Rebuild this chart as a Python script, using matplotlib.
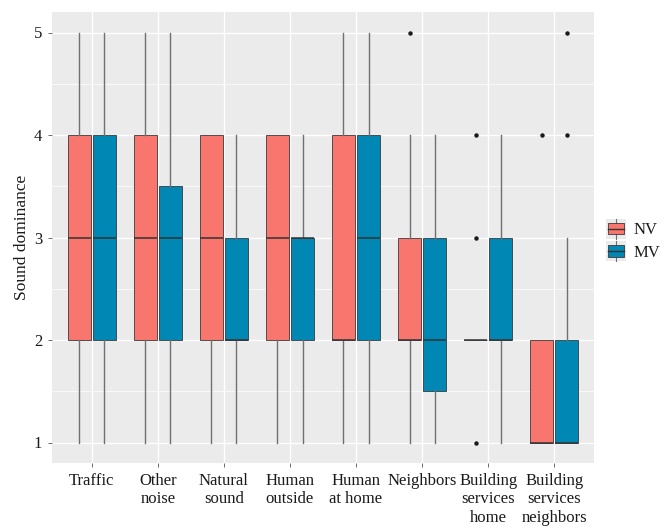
import matplotlib
matplotlib.use("Agg")
import matplotlib.pyplot as plt
from matplotlib.legend_handler import HandlerBase
from matplotlib.patches import Rectangle
from matplotlib.lines import Line2D
import numpy as np

plt.rcParams['font.family'] = ['Liberation Serif', 'DejaVu Serif']

categories = ["Traffic", "Other\nnoise", "Natural\nsound", "Human\noutside",
              "Human\nat home", "Neighbors", "Building\nservices\nhome",
              "Building\nservices\nneighbors"]
groups = ["NV", "MV"]
colors = {"NV": "#F8766D", "MV": "#0087B4"}

# five-number summaries per group: whisker low, Q1, median, Q3, whisker high
nv_whislo = [1, 1, 1, 1, 1, 1, 2, 1]
nv_q1     = [2, 2, 2, 2, 2, 2, 2, 1]
nv_med    = [3, 3, 3, 3, 2, 2, 2, 1]
nv_q3     = [4, 4, 4, 4, 4, 3, 2, 2]
nv_whishi = [5, 5, 4, 4, 5, 4, 2, 2]
nv_fliers = [[], [], [], [], [], [5], [1, 3, 4], [4]]

mv_whislo = [1, 1, 1, 1, 1, 1, 1, 1]
mv_q1     = [2, 2, 2, 2, 2, 1.5, 2, 1]
mv_med    = [3, 3, 2, 3, 3, 2, 2, 1]
mv_q3     = [4, 3.5, 3, 3, 4, 3, 3, 2]
mv_whishi = [5, 5, 4, 4, 5, 4, 4, 3]
mv_fliers = [[], [], [], [], [], [], [], [4, 5]]

series = {
    "NV": (nv_whislo, nv_q1, nv_med, nv_q3, nv_whishi, nv_fliers),
    "MV": (mv_whislo, mv_q1, mv_med, mv_q3, mv_whishi, mv_fliers),
}

fig = plt.figure(figsize=(6.7, 5.28), dpi=100)
ax = fig.add_axes([52 / 670, 65 / 528, 542 / 670, 451 / 528])
ax.set_facecolor("#EBEBEB")

x = np.arange(1, len(categories) + 1)
offsets = {"NV": -0.19, "MV": 0.19}
box_w = 0.35

edge = "#3A3A3A"
for g in groups:
    lo, q1, med, q3, hi, fl = series[g]
    stats = [dict(whislo=lo[i], q1=q1[i], med=med[i], q3=q3[i], whishi=hi[i],
                  fliers=fl[i]) for i in range(len(categories))]
    ax.bxp(stats, positions=x + offsets[g], widths=box_w, patch_artist=True,
           showcaps=False, manage_ticks=False,
           boxprops=dict(facecolor=colors[g], edgecolor=edge, linewidth=0.6),
           medianprops=dict(color="#333333", linewidth=1.1),
           whiskerprops=dict(color="#707070", linewidth=1.0),
           flierprops=dict(marker="o", markersize=2.2, markerfacecolor="#1A1A1A",
                           markeredgecolor="#1A1A1A"),
           zorder=3)

ax.set_xlim(0.4, len(categories) + 0.6)
ax.set_ylim(0.8, 5.2)
ax.set_yticks([1, 2, 3, 4, 5])
ax.set_yticks([1.5, 2.5, 3.5, 4.5], minor=True)
ax.set_xticks(x)
ax.set_xticklabels(categories, fontsize=12, color="#1A1A1A", linespacing=1.22,
                   va="top")
ax.tick_params(axis="y", labelsize=12, labelcolor="#1A1A1A")
ax.tick_params(axis="both", which="major", length=3, width=0.6, color="#555555", pad=4)
ax.tick_params(axis="x", which="major", pad=4)
ax.tick_params(axis="y", which="minor", length=0)
ax.grid(True, which="major", color="white", linewidth=1.0, zorder=0)
ax.grid(True, which="minor", axis="y", color="white", linewidth=0.5, zorder=0)
ax.set_axisbelow(True)
for s in ax.spines.values():
    s.set_visible(False)

ax.set_ylabel("Sound dominance", fontsize=12.5, color="#1A1A1A", labelpad=3)


class BoxKeyHandler(HandlerBase):
    def create_artists(self, legend, orig_handle, xdescent, ydescent, width,
                       height, fontsize, trans):
        fc = orig_handle.get_facecolor()
        bg = Rectangle((-xdescent, -ydescent - 2), width, height + 4,
                       facecolor="#EBEBEB", edgecolor="none", transform=trans)
        cx = -xdescent + width / 2
        bw = width * 0.8
        by0 = -ydescent + height * 0.12
        by1 = -ydescent + height * 0.88
        whisk = Line2D([cx, cx], [-ydescent - 2, height - ydescent + 2],
                       color="#707070", linewidth=0.8, transform=trans)
        box = Rectangle((cx - bw / 2, by0), bw, by1 - by0, facecolor=fc,
                        edgecolor=edge, linewidth=0.6, transform=trans)
        my = (by0 + by1) / 2
        med = Line2D([cx - bw / 2, cx + bw / 2], [my, my], color="#333333",
                     linewidth=1.0, transform=trans)
        return [bg, whisk, box, med]


handles = [Rectangle((0, 0), 1, 1, facecolor=colors[g]) for g in groups]
leg = fig.legend(handles, groups, loc="center left",
                 bbox_to_anchor=(594 / 670, 1 - 241 / 528),
                 handler_map={Rectangle: BoxKeyHandler()},
                 frameon=False, fontsize=12, handlelength=1.2, handleheight=1.0,
                 handletextpad=0.5, labelspacing=0.3, borderpad=0.2)
for t in leg.get_texts():
    t.set_color("#1A1A1A")

fig.savefig("out.png", dpi=100, facecolor="white")
